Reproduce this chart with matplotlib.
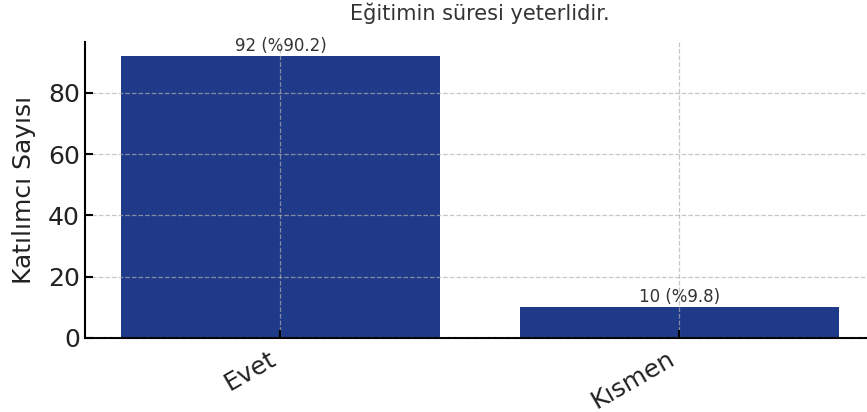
import matplotlib.pyplot as plt

# data
answers = ["Evet", "Kısmen"]
counts = [92, 10]
percents = [90.2, 9.8]

fig = plt.figure(figsize=(8.67, 4.12), dpi=100)
ax = fig.add_axes([0.098, 0.18, 0.911, 0.718])

bars = ax.bar(answers, counts, width=0.8, color="#1f3a89")

# labels on top of bars
for i, v in enumerate(counts):
    ax.text(i, v + 0.5, f"{v} (%{percents[i]})", ha="center", va="bottom",
            fontsize=12, color="#333333")

ax.set_title("Eğitimin süresi yeterlidir.", fontsize=15, color="#333333", pad=16)
ax.set_ylabel("Katılımcı Sayısı", fontsize=18, color="#222222", labelpad=9)

ax.grid(True, linestyle="--", color="#b0b0b0", alpha=0.7, linewidth=0.9)
ax.set_axisbelow(False)

ax.spines["top"].set_visible(False)
ax.spines["right"].set_visible(False)
ax.spines["left"].set_linewidth(1.5)
ax.spines["bottom"].set_linewidth(1.5)
ax.tick_params(axis="both", direction="in", labelsize=18, labelcolor="#222222", width=1.5, length=6)
ax.tick_params(axis="x", pad=6)
plt.setp(ax.get_xticklabels(), rotation=30, ha="right")
ax.set_yticks([0, 20, 40, 60, 80])

fig.savefig("out.png", dpi=100)
